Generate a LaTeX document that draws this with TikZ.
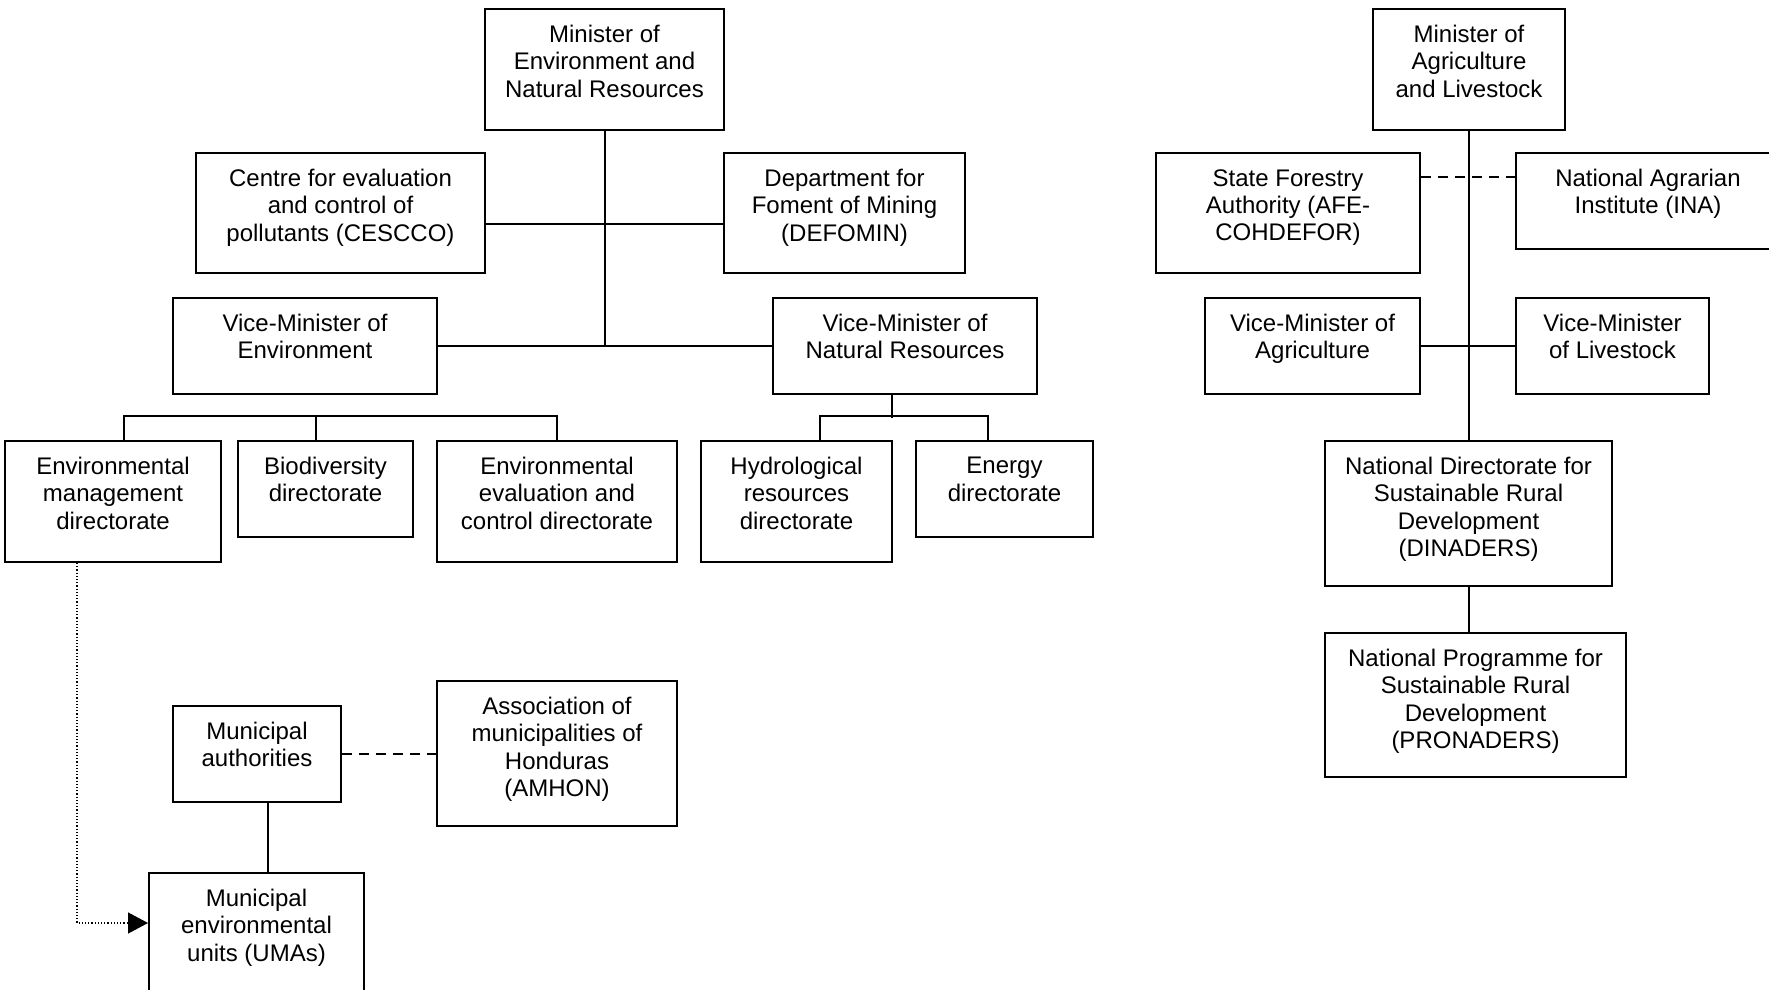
\documentclass[tikz,border=0pt]{standalone}
\usepackage{fontspec}
\setmainfont{Liberation Sans}
\usetikzlibrary{arrows.meta}
\newcommand{\orgfont}{\fontsize{12}{13.6}\selectfont}
\tikzset{
  unit/.style={rectangle, draw, line width=1pt, inner sep=0pt},
  txt/.style={anchor=north, yshift=-8.5pt, inner sep=0pt,
              align=center, font=\orgfont},
  link/.style={line width=1pt},
  dashlink/.style={line width=1pt, dash pattern=on 5pt off 3.5pt},
  dotlink/.style={line width=0.7pt, dash pattern=on 0.6pt off 1pt,
                  -{Triangle[length=10pt, width=10.5pt]}},
}

\begin{document}
\begin{tikzpicture}[x=0.5pt, y=-0.5pt]
  \useasboundingbox (0,0) rectangle (1769,990);
  \clip (0,0) rectangle (1769,990);

  % environment ministry
  \node[unit, minimum width=119.5pt, minimum height=60.5pt,
        label={[txt]north:{Minister of\\Environment and\\Natural Resources}}]
        (minenv) at (604.5,69.5) {};
  \node[unit, minimum width=144.5pt, minimum height=60pt,
        label={[txt]north:{Centre for evaluation\\and control of\\pollutants (CESCCO)}}]
        (cescco) at (340.5,213) {};
  \node[unit, minimum width=120.5pt, minimum height=60pt,
        label={[txt]north:{Department for\\Foment of Mining\\(DEFOMIN)}}]
        (defomin) at (844.5,213) {};
  \node[unit, minimum width=132pt, minimum height=48pt,
        label={[txt]north:{Vice-Minister of\\Environment}}]
        (vmenv) at (305,346) {};
  \node[unit, minimum width=132pt, minimum height=48pt,
        label={[txt]north:{Vice-Minister of\\Natural Resources}}]
        (vmnr) at (905,346) {};

  % directorates
  \node[unit, minimum width=108pt, minimum height=60.5pt,
        label={[txt]north:{Environmental\\management\\directorate}}]
        (envmgmt) at (113,501.5) {};
  \node[unit, minimum width=87.5pt, minimum height=48pt,
        label={[txt]north:{Biodiversity\\directorate}}]
        (biodiv) at (325.5,489) {};
  \node[unit, minimum width=120pt, minimum height=60.5pt,
        label={[txt]north:{Environmental\\evaluation and\\control directorate}}]
        (enveval) at (557,501.5) {};
  \node[unit, minimum width=95.5pt, minimum height=60.5pt,
        label={[txt]north:{Hydrological\\resources\\directorate}}]
        (hydro) at (796.5,501.5) {};
  \node[unit, minimum width=88.5pt, minimum height=48pt,
        label={[txt]north:{Energy\\directorate}}]
        (energy) at (1004.5,489) {};

  % municipal level
  \node[unit, minimum width=84pt, minimum height=48pt,
        label={[txt]north:{Municipal\\authorities}}]
        (munauth) at (257,754) {};
  \node[unit, minimum width=120pt, minimum height=72.5pt,
        label={[txt]north:{Association of\\municipalities of\\Honduras\\(AMHON)}}]
        (amhon) at (557,753.5) {};
  \node[unit, minimum width=107.5pt, minimum height=72.5pt,
        label={[txt]north:{Municipal\\environmental\\units (UMAs)}}]
        (umas) at (256.5,945.5) {};

  % agriculture ministry
  \node[unit, minimum width=96pt, minimum height=60.5pt,
        label={[txt]north:{Minister of\\Agriculture\\and Livestock}}]
        (minag) at (1469,69.5) {};
  \node[unit, minimum width=132pt, minimum height=60pt,
        label={[txt]north:{State Forestry\\Authority (AFE-\\COHDEFOR)}}]
        (afe) at (1288,213) {};
  \node[unit, minimum width=132pt, minimum height=48pt,
        label={[txt]north:{National Agrarian\\Institute (INA)}}]
        (ina) at (1648,201) {};
  \node[unit, minimum width=107.5pt, minimum height=48pt,
        label={[txt]north:{Vice-Minister of\\Agriculture}}]
        (vmag) at (1312.5,346) {};
  \node[unit, minimum width=96.5pt, minimum height=48pt,
        label={[txt]north:{Vice-Minister\\of Livestock}}]
        (vmliv) at (1612.5,346) {};
  \node[unit, minimum width=143.5pt, minimum height=72.5pt,
        label={[txt]north:{National Directorate for\\Sustainable Rural\\Development\\(DINADERS)}}]
        (dinaders) at (1468.5,513.5) {};
  \node[unit, minimum width=150.5pt, minimum height=72pt,
        label={[txt]north:{National Programme for\\Sustainable Rural\\Development\\(PRONADERS)}}]
        (pronaders) at (1475.5,705) {};

  % connectors, environment
  \draw[link] (minenv.south) -- (minenv.south |- vmenv.east);
  \draw[link] ([yshift=-5.5pt]cescco.east) -- ([yshift=-5.5pt]defomin.west);
  \draw[link] (vmenv.east) -- (vmnr.west);
  \draw[link] ([xshift=5.5pt]envmgmt.north) |- ([yshift=12pt]enveval.north)
    -- (enveval.north);
  \draw[link] ([xshift=-4.75pt]biodiv.north) -- ++(0,-24);
  \draw[link] ([xshift=-6.5pt]vmnr.south) -- ++(0,23);
  \draw[link] ([xshift=11.75pt]hydro.north) |- ([xshift=-8.25pt,yshift=12pt]energy.north)
    -- ([xshift=-8.25pt]energy.north);

  % connectors, municipal
  \draw[link] ([xshift=5.5pt]munauth.south) -- ([xshift=5.5pt]munauth.south |- umas.north);
  \draw[dashlink] (munauth.east) -- (munauth.east -| amhon.west);
  \draw[dotlink] ([xshift=-18pt]envmgmt.south) |- ([yshift=11.25pt]umas.west);

  % connectors, agriculture
  \draw[link] (minag.south) -- (minag.south |- dinaders.north);
  \draw[link] (dinaders.south) -- (dinaders.south |- pronaders.north);
  \draw[link] (vmag.east) -- (vmliv.west);
  \draw[dashlink] ([yshift=18pt]afe.east) -- ([yshift=18pt]afe.east -| ina.west);
\end{tikzpicture}
\end{document}
